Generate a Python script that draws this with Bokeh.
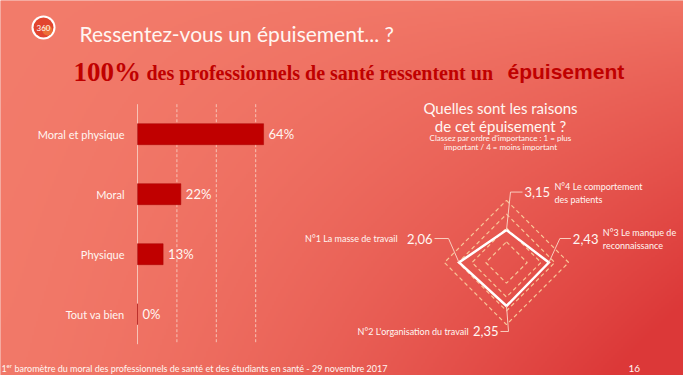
import numpy as np
from bokeh.plotting import figure
from bokeh.models import Range1d
from bokeh.core.properties import value
from bokeh.embed import file_html
from bokeh.resources import INLINE

# ---------------- data ----------------
categories = ["Moral et physique", "Moral", "Physique", "Tout va bien"]
percentages = [64, 22, 13, 0]
grid_ticks = [0, 20, 40, 60]

# radar: order = top, right, bottom, left
reason_lines = [["N°4 Le comportement", "des patients"],
                ["N°3 Le manque de", "reconnaissance"],
                ["N°2 L'organisation du travail"],
                ["N°1 La masse de travail"]]
scores = [3.15, 2.43, 2.35, 2.06]
score_labels = ["3,15", "2,43", "2,35", "2,06"]
ring_values = [1, 2, 3, 4]
AXIS_CENTER = 5.5  # reversed radial axis: 1 = most important (outside)

# ---------------- layout constants ----------------
W, H = 683, 375
FONT = value("Lato")
WHITE = "#FFF6F2"
DARKRED = "#C00000"


def cx(x):  # reference x -> canvas x
    return x - 8


def cy(y):  # reference y -> canvas y (upwards)
    return 383 - y


p = figure(width=W, height=H, output_backend="svg", toolbar_location=None,
           x_range=Range1d(0, W), y_range=Range1d(0, H), min_border=0,
           x_axis_type=None, y_axis_type=None)
p.xgrid.visible = False
p.ygrid.visible = False
p.outline_line_color = None
p.background_fill_color = "#F07A6A"
p.border_fill_color = "#F07A6A"

# bar chart ranges (0% at ref x=145, 1.97 px per %, categories every 60px from ref y=141.7)
PCT_PX = 1.97
ZERO_X = cx(145)
p.extra_x_ranges["pct"] = Range1d(-ZERO_X / PCT_PX, (W - ZERO_X) / PCT_PX)
CAT_PX = 60.0
CAT0_Y = cy(141.7)
p.extra_y_ranges["cat"] = Range1d(CAT0_Y / CAT_PX, (CAT0_Y - H) / CAT_PX)

# radar ranges (centre at ref (514, 270), 13.8 px per unit)
RAD_PX = 13.8
RCX, RCY = cx(514), cy(270)
p.extra_x_ranges["rx"] = Range1d(-RCX / RAD_PX, (W - RCX) / RAD_PX)
p.extra_y_ranges["ry"] = Range1d(-RCY / RAD_PX, (H - RCY) / RAD_PX)

# ---------------- background gradient ----------------
gh, gw = 188, 342
xs = np.linspace(0, 1, gw)[None, :]
ys_top = np.linspace(1, 0, gh)[:, None]  # row 0 is bottom -> 1 from top
t = np.clip(xs ** 1.5 * ys_top ** 0.8 + 0.10 * xs + 0.05 * ys_top, 0, 1)
light = np.array([243, 124, 107])
dark = np.array([220, 56, 56])
rgb = light[None, None, :] * (1 - t[..., None]) + dark[None, None, :] * t[..., None]
img = np.empty((gh, gw), dtype=np.uint32)
view = img.view(dtype=np.uint8).reshape((gh, gw, 4))
view[..., 0] = rgb[..., 0].astype(np.uint8)
view[..., 1] = rgb[..., 1].astype(np.uint8)
view[..., 2] = rgb[..., 2].astype(np.uint8)
view[..., 3] = 255
p.image_rgba(image=[img], x=0, y=0, dw=W, dh=H)

# ---------------- header ----------------
p.circle(x=[cx(51)], y=[cy(35)], radius=12, fill_color="white", line_color=None)
p.circle(x=[cx(51)], y=[cy(35)], radius=10, fill_color="#E2452F", line_color=None)
p.circle(x=[cx(55)], y=[cy(38)], radius=5, fill_color="#EF7B3A", line_color=None, fill_alpha=0.8)
p.text(x=[cx(51)], y=[cy(35)], text=["360"], text_font=FONT, text_font_size="8px",
       text_color="white", text_align="center", text_baseline="middle")

p.text(x=[cx(87)], y=[cy(41)], text=["Ressentez-vous un épuisement... ?"], text_font=FONT,
       text_font_size="21px", text_color=WHITE, text_baseline="middle")

p.text(x=[cx(81)], y=[cy(79)], text=["100%"], text_font=value("Liberation Serif"),
       text_font_size="27px", text_font_style="bold", text_color=DARKRED,
       text_baseline="middle")
p.text(x=[cx(154)], y=[cy(80)], text=["des professionnels de santé ressentent un"],
       text_font=value("Liberation Serif"), text_font_size="20px", text_font_style="bold",
       text_color=DARKRED, text_baseline="middle")
p.text(x=[cx(515)], y=[cy(79)], text=["épuisement"], text_font=value("Liberation Sans"),
       text_font_size="21px", text_font_style="bold", text_color=DARKRED,
       text_baseline="middle")

# ---------------- bar chart ----------------
idx = list(range(len(categories)))
p.segment(x0=grid_ticks[:1], y0=-0.5, x1=grid_ticks[:1], y1=len(categories) - 0.5,
          line_color="#F7C3B6", line_width=1, x_range_name="pct", y_range_name="cat")
p.segment(x0=grid_ticks[1:], y0=-0.5, x1=grid_ticks[1:], y1=len(categories) - 0.5,
          line_color="#F7C3B6", line_width=1, line_dash="3 2",
          x_range_name="pct", y_range_name="cat")
p.hbar(y=idx, left=0, right=percentages, height=0.35, fill_color=DARKRED,
       line_color="#A80000", line_width=0.5, x_range_name="pct", y_range_name="cat")
p.text(x=[0] * len(idx), y=idx, text=categories, x_offset=-13, text_align="right",
       text_baseline="middle", text_font=FONT, text_font_size="11px", text_color=WHITE,
       x_range_name="pct", y_range_name="cat")
p.text(x=percentages, y=idx, text=[f"{v}%" for v in percentages], x_offset=5,
       text_align="left", text_baseline="middle", text_font=FONT, text_font_size="13px",
       text_color=WHITE, x_range_name="pct", y_range_name="cat")

# ---------------- radar ----------------
p.text(x=[cx(508), cx(508)], y=[cy(115), cy(133)],
       text=["Quelles sont les raisons", "de cet épuisement ?"], text_font=FONT,
       text_font_size="15px", text_color=WHITE, text_align="center", text_baseline="middle")
p.text(x=[cx(508), cx(508)], y=[cy(145), cy(154)],
       text=["Classez par ordre d'importance : 1 = plus", "important / 4 = moins important"],
       text_font=FONT, text_font_size="8px", text_color=WHITE, text_align="center",
       text_baseline="middle")

n = len(scores)
ang = np.deg2rad(90 - 90 * np.arange(n))
cosA, sinA = np.cos(ang), np.sin(ang)

ring_xs, ring_ys = [], []
for v in ring_values:
    r = AXIS_CENTER - v
    ring_xs.append(list(r * cosA))
    ring_ys.append(list(r * sinA))
p.patches(xs=ring_xs, ys=ring_ys, fill_alpha=0, line_color="#F8C596", line_width=1.2,
          line_dash="4 3", x_range_name="rx", y_range_name="ry")

radii = AXIS_CENTER - np.array(scores)
vx = radii * cosA
vy = radii * sinA
p.patch(x=list(vx), y=list(vy), fill_alpha=0, line_color="white", line_width=2.5,
        line_join="miter", x_range_name="rx", y_range_name="ry")

# leader lines (pixel offsets from vertex, ref orientation: +y down)
elbow_px = [(4, -38), (11, -24), (2, 25.5), (-10.5, -24)]
end_px = [(16, -38), (22, -24), (-6, 25.5), (-24.5, -24)]
lx, ly = [], []
ex, ey = [], []
for i in range(n):
    e1 = (vx[i] + elbow_px[i][0] / RAD_PX, vy[i] - elbow_px[i][1] / RAD_PX)
    e2 = (vx[i] + end_px[i][0] / RAD_PX, vy[i] - end_px[i][1] / RAD_PX)
    lx.append([vx[i], e1[0], e2[0]])
    ly.append([vy[i], e1[1], e2[1]])
    ex.append(e2[0])
    ey.append(e2[1])
p.multi_line(xs=lx, ys=ly, line_color="#F9CDBE", line_width=1,
             x_range_name="rx", y_range_name="ry")

sides = ["left", "left", "right", "right"]
for i in range(n):
    sgn = 1 if sides[i] == "left" else -1
    p.text(x=[ex[i]], y=[ey[i]], text=[score_labels[i]], x_offset=2 * sgn,
           text_align=sides[i], text_baseline="middle", text_font=FONT,
           text_font_size="13px", text_color=WHITE, x_range_name="rx", y_range_name="ry")

label_dx = [32, 32, -32, -37]
label_dy = [[-6, 7], [-6, 7], [0], [0]]
for i in range(n):
    lines = reason_lines[i]
    p.text(x=[ex[i]] * len(lines), y=[ey[i]] * len(lines), text=lines,
           x_offset=label_dx[i], y_offset=label_dy[i][:len(lines)],
           text_align=sides[i], text_baseline="middle", text_font=FONT,
           text_font_size="9px", text_color=WHITE, x_range_name="rx", y_range_name="ry")

# ---------------- footer ----------------
p.text(x=[cx(9)], y=[cy(376)], text=["1"], text_font=FONT, text_font_size="9px",
       text_color=WHITE, text_baseline="middle")
p.text(x=[cx(14)], y=[cy(373)], text=["er"], text_font=FONT, text_font_size="6px",
       text_color=WHITE, text_baseline="middle")
p.text(x=[cx(22)], y=[cy(376)],
       text=["baromètre du moral des professionnels de santé et des étudiants en santé - 29 novembre 2017"],
       text_font=FONT, text_font_size="9px", text_color=WHITE, text_baseline="middle")
p.text(x=[cx(636)], y=[cy(376)], text=["16"], text_font=FONT, text_font_size="10px",
       text_color=WHITE, text_baseline="middle")

open("out.html", "w").write(file_html(p, INLINE))
